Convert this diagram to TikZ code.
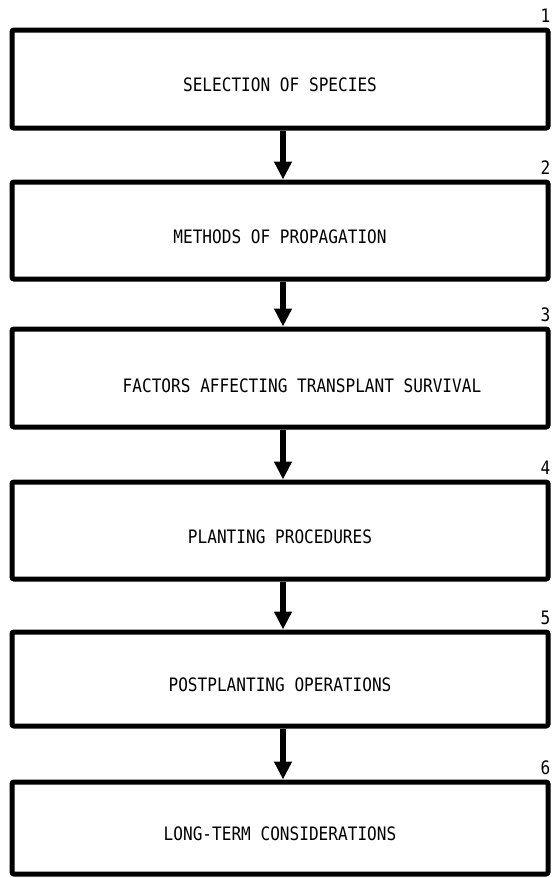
\documentclass[tikz,border=0pt]{standalone}
\usepackage{fontspec}
\usetikzlibrary{arrows.meta}
\newfontfamily\typer[FakeStretch=0.87]{DejaVu Sans Mono}
\tikzset{
  stagebox/.style={draw=black, line width=5pt, rounded corners=2pt,
    minimum width=536pt, inner sep=0pt, fill=white},
  stagetext/.style={font=\typer\fontsize{18.5}{20}\selectfont, inner sep=0pt},
  stagenum/.style={font=\typer\fontsize{18.5}{20}\selectfont, inner sep=0pt, anchor=south east},
  flow/.style={line width=6pt, -{Triangle[width=17pt,length=18pt]}}
}
\begin{document}
\begin{tikzpicture}[x=1pt,y=-1pt]
  \useasboundingbox (0,0) rectangle (552,878);
  % stage boxes: centre y and height
  \node[stagebox, minimum height=98pt] (b1) at (280,79) {};
  \node[stagebox, minimum height=97pt] (b2) at (280,230.5) {};
  \node[stagebox, minimum height=98pt] (b3) at (280,378) {};
  \node[stagebox, minimum height=97pt] (b4) at (280,530.5) {};
  \node[stagebox, minimum height=94pt] (b5) at (280,679) {};
  \node[stagebox, minimum height=92pt] (b6) at (280,828) {};
  % titles
  \node[stagetext] (t1) at ([yshift=-6pt]b1.center) {SELECTION OF SPECIES};
  \node[stagetext] (t2) at ([yshift=-6pt]b2.center) {METHODS OF PROPAGATION};
  \node[stagetext] (t3) at ([xshift=22pt,yshift=-8pt]b3.center) {FACTORS AFFECTING TRANSPLANT SURVIVAL};
  \node[stagetext] (t4) at ([yshift=-6pt]b4.center) {PLANTING PROCEDURES};
  \node[stagetext] (t5) at ([yshift=-6pt]b5.center) {POSTPLANTING OPERATIONS};
  \node[stagetext] (t6) at ([yshift=-6pt]b6.center) {LONG-TERM CONSIDERATIONS};
  % stage numbers
  \foreach \i in {1,...,6}
    \node[stagenum] (n\i) at ([yshift=5pt]b\i.north east) {\i};
  % connectors
  \foreach \a/\b in {b1/b2,b2/b3,b3/b4,b4/b5,b5/b6}
    \draw[flow] ([xshift=3pt]\a.south) -- ([xshift=3pt]\b.north);
\end{tikzpicture}
\end{document}
